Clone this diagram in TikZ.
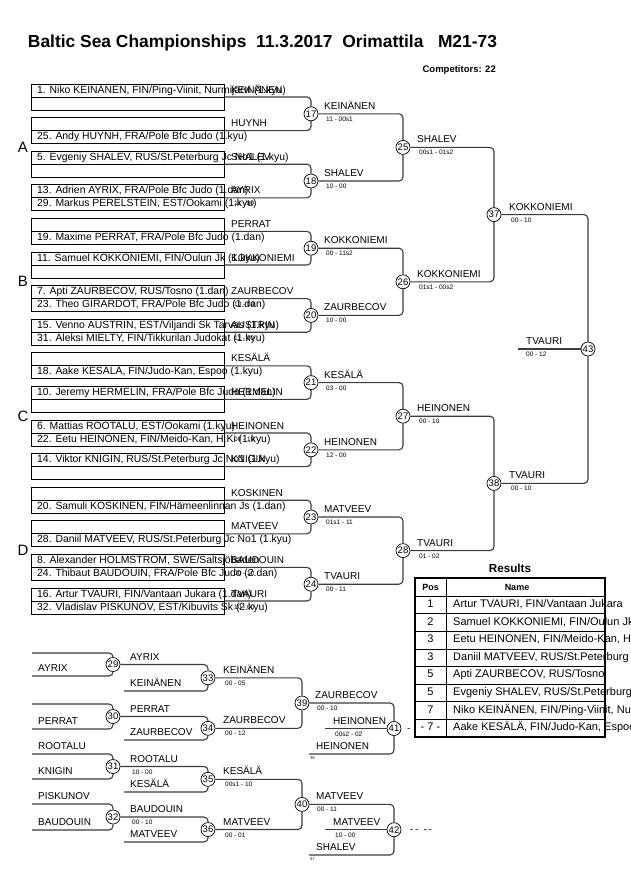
\documentclass[tikz,border=0pt]{standalone}
\usepackage{fontspec}
\setmainfont{Liberation Sans}
\usetikzlibrary{positioning}
\definecolor{grisLigne}{RGB}{60,60,60}

\tikzset{
  drawbox/.style={draw=black, line width=0.7pt, minimum width=193pt, minimum height=26pt, inner sep=0pt},
  conn/.style={draw=grisLigne, line width=1.1pt, rounded corners=4pt},
  bout/.style={circle, draw=black, line width=0.7pt, fill=white, minimum size=14pt, inner sep=0pt, font=\fontsize{9.5}{10}\selectfont},
  entrant/.style={anchor=west, inner sep=0pt, text height=7pt, text depth=2pt, font=\fontsize{10}{12}\selectfont},
  rowtxt/.style={anchor=west, inner sep=0pt, text height=7pt, text depth=2pt, font=\fontsize{10.4}{12}\selectfont},
  score/.style={anchor=west, inner sep=0pt, text height=5pt, text depth=0pt, font=\fontsize{6.5}{7}\selectfont},
  pool/.style={inner sep=0pt, font=\fontsize{15}{16}\selectfont},
  tinytxt/.style={anchor=west, inner sep=0pt, font=\fontsize{4}{4}\selectfont},
  cell/.style={inner sep=0pt, text height=7.5pt, text depth=2pt, font=\fontsize{11}{12}\selectfont},
  head/.style={inner sep=0pt, font=\bfseries\fontsize{9}{10}\selectfont},
}

\begin{document}
\begin{tikzpicture}[x=1pt, y=-1pt]
\useasboundingbox (0,0) rectangle (630,891);
\fill[white] (0,0) rectangle (630,891);

\node[font=\bfseries\fontsize{17.4}{20}\selectfont, inner sep=0pt] (title) at (262.5,43) {Baltic Sea Championships~ 11.3.2017~ Orimattila~~ M21-73};
\node[font=\bfseries\fontsize{9.5}{10}\selectfont, inner sep=0pt, anchor=east] (comp) at (496,70) {Competitors: 22};

\node[pool] (poolA) at (23,147.4) {A};
\node[pool] (poolB) at (23,281.8) {B};
\node[pool] (poolC) at (23,416.2) {C};
\node[pool] (poolD) at (23,550.6) {D};

\node[drawbox] (b1) at (127.5,97) {};
\node[drawbox] (b2) at (127.5,130.6) {};
\node[drawbox] (b3) at (127.5,164.2) {};
\node[drawbox] (b4) at (127.5,197.8) {};
\node[drawbox] (b5) at (127.5,231.4) {};
\node[drawbox] (b6) at (127.5,265) {};
\node[drawbox] (b7) at (127.5,298.6) {};
\node[drawbox] (b8) at (127.5,332.2) {};
\node[drawbox] (b9) at (127.5,365.8) {};
\node[drawbox] (b10) at (127.5,399.4) {};
\node[drawbox] (b11) at (127.5,433) {};
\node[drawbox] (b12) at (127.5,466.6) {};
\node[drawbox] (b13) at (127.5,500.2) {};
\node[drawbox] (b14) at (127.5,533.8) {};
\node[drawbox] (b15) at (127.5,567.4) {};
\node[drawbox] (b16) at (127.5,601) {};

\foreach \b in {1,...,16} \draw[line width=0.7pt] (b\b.west) -- (b\b.east);

\node[rowtxt] (e1a) at (37,90.5) {1. Niko KEINÄNEN, FIN/Ping-Viinit, Nurmijärvi (1.kyu)};
\node[rowtxt] (e2b) at (37,137.1) {25. Andy HUYNH, FRA/Pole Bfc Judo (1.kyu)};
\node[rowtxt] (e3a) at (37,157.7) {5. Evgeniy SHALEV, RUS/St.Peterburg Jc No1 (1.kyu)};
\node[rowtxt] (e4a) at (37,191.3) {13. Adrien AYRIX, FRA/Pole Bfc Judo (1.dan)};
\node[rowtxt] (e4b) at (37,204.3) {29. Markus PERELSTEIN, EST/Ookami (1.kyu)};
\node[rowtxt] (e5b) at (37,237.9) {19. Maxime PERRAT, FRA/Pole Bfc Judo (1.dan)};
\node[rowtxt] (e6a) at (37,258.5) {11. Samuel KOKKONIEMI, FIN/Oulun Jk (1.kyu)};
\node[rowtxt] (e7a) at (37,292.1) {7. Apti ZAURBECOV, RUS/Tosno (1.dan)};
\node[rowtxt] (e7b) at (37,305.1) {23. Theo GIRARDOT, FRA/Pole Bfc Judo (1.dan)};
\node[rowtxt] (e8a) at (37,325.7) {15. Venno AUSTRIN, EST/Viljandi Sk Tarvas (1.kyu)};
\node[rowtxt] (e8b) at (37,338.7) {31. Aleksi MIELTY, FIN/Tikkurilan Judokat (1.kyu)};
\node[rowtxt] (e9b) at (37,372.3) {18. Aake KESÄLÄ, FIN/Judo-Kan, Espoo (1.kyu)};
\node[rowtxt] (e10a) at (37,392.9) {10. Jeremy HERMELIN, FRA/Pole Bfc Judo (1.dan)};
\node[rowtxt] (e11a) at (37,426.5) {6. Mattias ROOTALU, EST/Ookami (1.kyu)};
\node[rowtxt] (e11b) at (37,439.5) {22. Eetu HEINONEN, FIN/Meido-Kan, H:Ki (1.kyu)};
\node[rowtxt] (e12a) at (37,460.1) {14. Viktor KNIGIN, RUS/St.Peterburg Jc No1 (1.kyu)};
\node[rowtxt] (e13b) at (37,506.7) {20. Samuli KOSKINEN, FIN/Hämeenlinnan Js (1.dan)};
\node[rowtxt] (e14b) at (37,540.3) {28. Daniil MATVEEV, RUS/St.Peterburg Jc No1 (1.kyu)};
\node[rowtxt] (e15a) at (37,560.9) {8. Alexander HOLMSTROM, SWE/Saltsjöbaden};
\node[rowtxt] (e15b) at (37,573.9) {24. Thibaut BAUDOUIN, FRA/Pole Bfc Judo (2.dan)};
\node[rowtxt] (e16a) at (37,594.5) {16. Artur TVAURI, FIN/Vantaan Jukara (1.dan)};
\node[rowtxt] (e16b) at (37,607.5) {32. Vladislav PISKUNOV, EST/Kibuvits Sk (2.kyu)};

\node[entrant] (w1) at (231,90.5) {KEINÄNEN};
\node[entrant] (w2) at (231,124.1) {HUYNH};
\node[entrant] (w3) at (231,157.7) {SHALEV};
\node[entrant] (w4) at (231,191.3) {AYRIX};
\node[score] (s4) at (234,203.3) {11 - 00};
\node[entrant] (w5) at (231,224.9) {PERRAT};
\node[entrant] (w6) at (231,258.5) {KOKKONIEMI};
\node[entrant] (w7) at (231,292.1) {ZAURBECOV};
\node[score] (s7) at (234,304.1) {10 - 00};
\node[entrant] (w8) at (231,325.7) {AUSTRIN};
\node[score] (s8) at (234,337.7) {11 - 00};
\node[entrant] (w9) at (231,359.3) {KESÄLÄ};
\node[entrant] (w10) at (231,392.9) {HERMELIN};
\node[entrant] (w11) at (231,426.5) {HEINONEN};
\node[score] (s11) at (234,438.5) {00 - 10};
\node[entrant] (w12) at (231,460.1) {KNIGIN};
\node[entrant] (w13) at (231,493.7) {KOSKINEN};
\node[entrant] (w14) at (231,527.3) {MATVEEV};
\node[entrant] (w15) at (231,560.9) {BAUDOUIN};
\node[score] (s15) at (234,572.9) {00 - 10};
\node[entrant] (w16) at (231,594.5) {TVAURI};
\node[score] (s16) at (234,606.5) {10 - 00};

\node[bout] (m17) at (311,113.8) {17};
\node[bout] (m18) at (311,181) {18};
\node[bout] (m19) at (311,248.2) {19};
\node[bout] (m20) at (311,315.4) {20};
\node[bout] (m21) at (311,382.6) {21};
\node[bout] (m22) at (311,449.8) {22};
\node[bout] (m23) at (311,517) {23};
\node[bout] (m24) at (311,584.2) {24};
\node[bout] (m25) at (403,147.4) {25};
\node[bout] (m26) at (403,281.8) {26};
\node[bout] (m27) at (403,416.2) {27};
\node[bout] (m28) at (403,550.6) {28};
\node[bout] (m37) at (494,214.6) {37};
\node[bout] (m38) at (494,483.4) {38};
\node[bout] (m43) at (588,349) {43};
\coordinate (f43) at (518,349);

\draw[conn] (b1.east) -| (m17.north);
\draw[conn] (b2.east) -| (m17.south);
\draw[conn] (b3.east) -| (m18.north);
\draw[conn] (b4.east) -| (m18.south);
\draw[conn] (b5.east) -| (m19.north);
\draw[conn] (b6.east) -| (m19.south);
\draw[conn] (b7.east) -| (m20.north);
\draw[conn] (b8.east) -| (m20.south);
\draw[conn] (b9.east) -| (m21.north);
\draw[conn] (b10.east) -| (m21.south);
\draw[conn] (b11.east) -| (m22.north);
\draw[conn] (b12.east) -| (m22.south);
\draw[conn] (b13.east) -| (m23.north);
\draw[conn] (b14.east) -| (m23.south);
\draw[conn] (b15.east) -| (m24.north);
\draw[conn] (b16.east) -| (m24.south);
\draw[conn] (m17.east) -| (m25.north);
\draw[conn] (m18.east) -| (m25.south);
\draw[conn] (m19.east) -| (m26.north);
\draw[conn] (m20.east) -| (m26.south);
\draw[conn] (m21.east) -| (m27.north);
\draw[conn] (m22.east) -| (m27.south);
\draw[conn] (m23.east) -| (m28.north);
\draw[conn] (m24.east) -| (m28.south);
\draw[conn] (m25.east) -| (m37.north);
\draw[conn] (m26.east) -| (m37.south);
\draw[conn] (m27.east) -| (m38.north);
\draw[conn] (m28.east) -| (m38.south);
\draw[conn] (m37.east) -| (m43.north);
\draw[conn] (m38.east) -| (m43.south);
\draw[conn] (f43) -- (m43.west);

\node[entrant] (w17) at (324,106.8) {KEINÄNEN};
\node[score] (s17) at (326,118.8) {11 - 00s1};
\node[entrant] (w18) at (324,174) {SHALEV};
\node[score] (s18) at (326,186) {10 - 00};
\node[entrant] (w19) at (324,241.2) {KOKKONIEMI};
\node[score] (s19) at (326,253.2) {00 - 11s2};
\node[entrant] (w20) at (324,308.4) {ZAURBECOV};
\node[score] (s20) at (326,320.4) {10 - 00};
\node[entrant] (w21) at (324,375.6) {KESÄLÄ};
\node[score] (s21) at (326,387.6) {03 - 00};
\node[entrant] (w22) at (324,442.8) {HEINONEN};
\node[score] (s22) at (326,454.8) {12 - 00};
\node[entrant] (w23) at (324,510) {MATVEEV};
\node[score] (s23) at (326,522) {01s1 - 11};
\node[entrant] (w24) at (324,577.2) {TVAURI};
\node[score] (s24) at (326,589.2) {00 - 11};
\node[entrant] (w25) at (417,140.4) {SHALEV};
\node[score] (s25) at (419,152.4) {00s1 - 01s2};
\node[entrant] (w26) at (417,274.8) {KOKKONIEMI};
\node[score] (s26) at (419,286.8) {01s1 - 00s2};
\node[entrant] (w27) at (417,409.2) {HEINONEN};
\node[score] (s27) at (419,421.2) {00 - 10};
\node[entrant] (w28) at (417,543.6) {TVAURI};
\node[score] (s28) at (419,555.6) {01 - 02};
\node[entrant] (w37) at (509,207.6) {KOKKONIEMI};
\node[score] (s37) at (511,219.6) {00 - 10};
\node[entrant] (w38) at (509,476.4) {TVAURI};
\node[score] (s38) at (511,488.4) {00 - 10};
\node[entrant] (w43) at (526,342) {TVAURI};
\node[score] (s43) at (526,354) {00 - 12};

\node[bout] (m29) at (113,664.5) {29};
\node[bout] (m30) at (113,716.5) {30};
\node[bout] (m31) at (113,766.5) {31};
\node[bout] (m32) at (113,817) {32};
\node[bout] (m33) at (208,677.8) {33};
\node[bout] (m34) at (208,728.3) {34};
\node[bout] (m35) at (208,779.3) {35};
\node[bout] (m36) at (208,829.5) {36};
\node[bout] (m39) at (302,703) {39};
\node[bout] (m40) at (302,804.4) {40};
\node[bout] (m41) at (394,728.5) {41};
\node[bout] (m42) at (394,829.7) {42};

\coordinate (r29a) at (32,653);
\coordinate (r29b) at (32,676);
\coordinate (r30a) at (32,704);
\coordinate (r30b) at (32,729);
\coordinate (r31a) at (32,754);
\coordinate (r31b) at (32,779);
\coordinate (r32a) at (32,804);
\coordinate (r32b) at (32,830);
\coordinate (r33b) at (124,691);
\coordinate (r34b) at (124,740);
\coordinate (r35b) at (124,792);
\coordinate (r36b) at (124,842);
\coordinate (r41b) at (309,754);
\coordinate (r41l) at (325,728.5);
\coordinate (r42b) at (309,855);
\coordinate (r42l) at (325,829.7);

\draw[conn] (r29a) -| (m29.north);
\draw[conn] (r29b) -| (m29.south);
\draw[conn] (r30a) -| (m30.north);
\draw[conn] (r30b) -| (m30.south);
\draw[conn] (r31a) -| (m31.north);
\draw[conn] (r31b) -| (m31.south);
\draw[conn] (r32a) -| (m32.north);
\draw[conn] (r32b) -| (m32.south);
\draw[conn] (m29.east) -| (m33.north);
\draw[conn] (r33b) -| (m33.south);
\draw[conn] (m30.east) -| (m34.north);
\draw[conn] (r34b) -| (m34.south);
\draw[conn] (m31.east) -| (m35.north);
\draw[conn] (r35b) -| (m35.south);
\draw[conn] (m32.east) -| (m36.north);
\draw[conn] (r36b) -| (m36.south);
\draw[conn] (m33.east) -| (m39.north);
\draw[conn] (m34.east) -| (m39.south);
\draw[conn] (m35.east) -| (m40.north);
\draw[conn] (m36.east) -| (m40.south);
\draw[conn] (m39.east) -| (m41.north);
\draw[conn] (r41b) -| (m41.south);
\draw[conn] (r41l) -- (m41.west);
\draw[conn] (m40.east) -| (m42.north);
\draw[conn] (r42b) -| (m42.south);
\draw[conn] (r42l) -- (m42.west);

\node[entrant] (q29b) at (38,669) {AYRIX};
\node[entrant] (q30b) at (38,722) {PERRAT};
\node[entrant] (q31a) at (38,747) {ROOTALU};
\node[entrant] (q31b) at (38,772) {KNIGIN};
\node[entrant] (q32a) at (38,797) {PISKUNOV};
\node[entrant] (q32b) at (38,823) {BAUDOUIN};
\node[entrant] (w29) at (130,657.5) {AYRIX};
\node[entrant] (q33b) at (130,684) {KEINÄNEN};
\node[entrant] (w30) at (130,709.5) {PERRAT};
\node[entrant] (q34b) at (130,733) {ZAURBECOV};
\node[entrant] (w31) at (130,759.5) {ROOTALU};
\node[score] (s31) at (132,771.5) {10 - 00};
\node[entrant] (q35b) at (130,785) {KESÄLÄ};
\node[entrant] (w32) at (130,810) {BAUDOUIN};
\node[score] (s32) at (132,822) {00 - 10};
\node[entrant] (q36b) at (130,835) {MATVEEV};
\node[entrant] (w33) at (223,670.8) {KEINÄNEN};
\node[score] (s33) at (225,682.8) {00 - 05};
\node[entrant] (w34) at (223,721.3) {ZAURBECOV};
\node[score] (s34) at (225,733.3) {00 - 12};
\node[entrant] (w35) at (223,772.3) {KESÄLÄ};
\node[score] (s35) at (225,784.3) {00s1 - 10};
\node[entrant] (w36) at (223,822.5) {MATVEEV};
\node[score] (s36) at (225,834.5) {00 - 01};
\node[entrant] (w39) at (315,696) {ZAURBECOV};
\node[score] (s39) at (317,708) {00 - 10};
\node[entrant] (q41b) at (316,747) {HEINONEN};
\node[tinytxt] (t38) at (310,758) {38};
\node[entrant] (w41) at (333,721.5) {HEINONEN};
\node[score] (s41) at (335,733.5) {00s2 - 02};
\node[entrant] (w40) at (316,797.4) {MATVEEV};
\node[score] (s40) at (317,809.4) {00 - 11};
\node[entrant] (q42b) at (316,848) {SHALEV};
\node[tinytxt] (t37) at (310,859) {37};
\node[entrant] (w42) at (333,822.7) {MATVEEV};
\node[score] (s42) at (335,834.7) {10 - 00};
\node[entrant] (d41) at (407,728.5) {-};
\node[entrant] (d42) at (410,829.7) {-\,-\enspace-\,-};

\node[font=\bfseries\fontsize{11.7}{13}\selectfont, inner sep=0pt] (results) at (510,568) {Results};
\draw[line width=0.6pt] (415,596) -- (605,596);
\foreach \y in {613.6,631.2,648.8,666.4,684,701.6,719.2} \draw[line width=0.6pt] (415,\y) -- (605,\y);
\draw[line width=0.6pt] (446,578) -- (446,737);
\draw[line width=1.4pt] (415,578) rectangle (605,737);
\node[head] (hpos) at (430.5,587) {Pos};
\node[head] (hname) at (517,587) {Name};
\node[cell] (p1) at (430.5,604.8) {1};
\node[cell] (p2) at (430.5,622.4) {2};
\node[cell] (p3) at (430.5,640) {3};
\node[cell] (p4) at (430.5,657.6) {3};
\node[cell] (p5) at (430.5,675.2) {5};
\node[cell] (p6) at (430.5,692.8) {5};
\node[cell] (p7) at (430.5,710.4) {7};
\node[cell] (p8) at (430.5,728) {- 7 -};
\node[cell, anchor=west] (n1) at (453,604.8) {Artur TVAURI, FIN/Vantaan Jukara};
\node[cell, anchor=west] (n2) at (453,622.4) {Samuel KOKKONIEMI, FIN/Oulun Jk};
\node[cell, anchor=west] (n3) at (453,640) {Eetu HEINONEN, FIN/Meido-Kan, H:Ki};
\node[cell, anchor=west] (n4) at (453,657.6) {Daniil MATVEEV, RUS/St.Peterburg Jc No1};
\node[cell, anchor=west] (n5) at (453,675.2) {Apti ZAURBECOV, RUS/Tosno};
\node[cell, anchor=west] (n6) at (453,692.8) {Evgeniy SHALEV, RUS/St.Peterburg Jc No1};
\node[cell, anchor=west] (n7) at (453,710.4) {Niko KEINÄNEN, FIN/Ping-Viinit, Nurmijärvi};
\node[cell, anchor=west] (n8) at (453,728) {Aake KESÄLÄ, FIN/Judo-Kan, Espoo};

\end{tikzpicture}
\end{document}
